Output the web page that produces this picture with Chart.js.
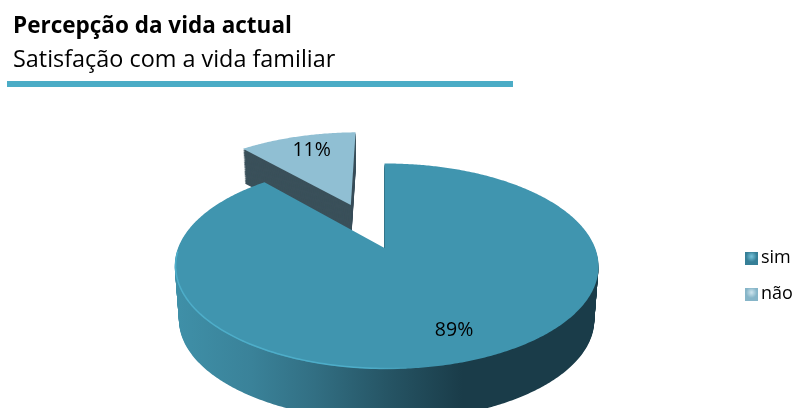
<!DOCTYPE html>
<html>
<head>
<meta charset="utf-8">
<style>html,body{margin:0;padding:0;background:#fff}canvas{display:block}</style>
<script src="https://cdn.jsdelivr.net/npm/chart.js@4"></script>
</head>
<body>
<canvas id="c" width="792" height="408"></canvas>
<script>
const categories = ['sim', 'não'];
const shares = [88.6, 11.4];
const titleText = 'Percepção da vida actual';
const subtitleText = 'Satisfação com a vida familiar';

const FONT = '"Open Sans", Lato, sans-serif';
const faceColors = ['#4095AF', '#90BFD3'];
const view = {x0: 384.5, y0: 248, bx: 208.5, ay: 99.5, cv: -0.178, cu: -0.01, depth: 54, shrink: 0.02};

function project(u, v, t) {
  const den = 1 + view.cv * v + view.cu * u;
  const s = 1 - view.shrink * t;
  return [view.x0 + (view.bx * s * u) / den,
          view.y0 + (view.ay * s * v) / den + view.depth * t];
}
function sliceGeom(el) {
  const p = el.getProps(['startAngle', 'endAngle', 'outerRadius']);
  const mid = (p.startAngle + p.endAngle) / 2;
  const off = (el.options.offset || 0) / p.outerRadius;
  return {start: p.startAngle, end: p.endAngle, mid, ox: Math.cos(mid) * off, oy: Math.sin(mid) * off};
}
function slicePath(ctx, g, t) {
  ctx.beginPath();
  const a = project(g.ox, g.oy, t);
  ctx.moveTo(a[0], a[1]);
  const n = Math.ceil((g.end - g.start) / 0.01);
  for (let i = 0; i <= n; i++) {
    const th = g.start + (g.end - g.start) * i / n;
    const q = project(g.ox + Math.cos(th), g.oy + Math.sin(th), t);
    ctx.lineTo(q[0], q[1]);
  }
  ctx.closePath();
}
const pie3d = {
  id: 'pie3d',
  afterLayout(chart) {
    const lg = chart.legend;
    lg.left = 733; lg.right = 792; lg.top = 231; lg.bottom = 330;
  },
  beforeDatasetsDraw(chart) {
    const ctx = chart.ctx;
    const arcs = chart.getDatasetMeta(0).data;
    const main = sliceGeom(arcs[0]), small = sliceGeom(arcs[1]);
    ctx.save();
    // rule below the headings
    ctx.fillStyle = '#4BACC6';
    ctx.fillRect(7, 81, 506, 6);

    // exploded slice: wall then face
    ctx.fillStyle = '#3A505A';
    for (let t = 0.62; t >= 0; t -= 0.02) { slicePath(ctx, small, t); ctx.fill(); }
    slicePath(ctx, small, 0); ctx.fillStyle = arcs[1].options.backgroundColor; ctx.fill();

    // main slice wall
    const wall = ctx.createLinearGradient(175, 0, 598, 0);
    wall.addColorStop(0, '#3F90A8');
    wall.addColorStop(0.18, '#3A8299');
    wall.addColorStop(0.33, '#326F83');
    wall.addColorStop(0.5, '#265565');
    wall.addColorStop(0.68, '#1A3C49');
    wall.addColorStop(1, '#1A3C49');
    ctx.fillStyle = wall;
    for (let t = 1; t >= 0; t -= 0.02) { slicePath(ctx, main, t); ctx.fill(); }
    slicePath(ctx, main, 0); ctx.fillStyle = arcs[0].options.backgroundColor; ctx.fill();

    // light rim on the front left of the face
    const rim = ctx.createLinearGradient(175, 0, 420, 0);
    rim.addColorStop(0, 'rgba(79,176,204,0.9)');
    rim.addColorStop(0.8, 'rgba(79,176,204,0.9)');
    rim.addColorStop(1, 'rgba(79,176,204,0)');
    ctx.strokeStyle = rim; ctx.lineWidth = 1.5;
    ctx.beginPath();
    for (let d = 175; d <= 268; d += 1) {
      const th = (d - 90) * Math.PI / 180;
      const q = project(Math.cos(th) * 0.996, Math.sin(th) * 0.996, 0);
      d === 175 ? ctx.moveTo(q[0], q[1]) : ctx.lineTo(q[0], q[1]);
    }
    ctx.stroke();

    // percentage labels
    const total = shares.reduce((s, v) => s + v, 0);
    ctx.fillStyle = '#000';
    ctx.font = '19.5px ' + FONT;
    ctx.textAlign = 'center'; ctx.textBaseline = 'middle';
    [main, small].forEach((g, i) => {
      const q = project(g.ox + Math.cos(g.mid) * 0.77 + 0.02, g.oy + Math.sin(g.mid) * 0.77, 0);
      ctx.fillText(Math.round(shares[i] / total * 100) + '%', q[0], q[1]);
    });
    ctx.restore();
    return false;
  }
};
function swatch(base, light) {
  const cv = document.createElement('canvas');
  cv.width = 13; cv.height = 13;
  const x = cv.getContext('2d');
  x.fillStyle = base; x.fillRect(0, 0, 13, 13);
  const g = x.createRadialGradient(6.5, 5, 0, 6.5, 5, 5.5);
  g.addColorStop(0, light); g.addColorStop(1, base);
  x.fillStyle = g; x.fillRect(1, 1, 11, 11);
  return cv;
}
const swatches = [swatch('#367F97', '#79C5DC'), swatch('#86B5C8', '#D0E6EF')];

new Chart(document.getElementById('c'), {
  type: 'pie',
  plugins: [pie3d],
  data: {
    labels: categories,
    datasets: [{data: shares, backgroundColor: faceColors, offset: [0, 50], borderWidth: 0}]
  },
  options: {
    responsive: false,
    animation: false,
    radius: 100,
    layout: {padding: {left: 13}},
    plugins: {
      tooltip: {enabled: false},
      title: {display: true, text: titleText, align: 'start', color: '#000',
              font: {family: FONT, size: 22.5, weight: 'bold', lineHeight: 1.2}, padding: {top: 13, bottom: 6}},
      subtitle: {display: true, text: subtitleText, align: 'start', color: '#000',
              font: {family: FONT, size: 23.4, weight: 'normal', lineHeight: 1.2}, padding: {top: 0, bottom: 10}},
      legend: {
        position: 'right', align: 'start',
        labels: {
          boxWidth: 1, boxHeight: 1, pointStyleWidth: 1, usePointStyle: true, padding: 18, color: '#000',
          font: {family: FONT, size: 18},
          generateLabels: () => categories.map((c, i) => ({
            text: c, index: i, hidden: false, fillStyle: faceColors[i], strokeStyle: faceColors[i],
            lineWidth: 0, pointStyle: swatches[i], fontColor: '#000'
          }))
        }
      }
    }
  }
});
</script>
</body>
</html>
